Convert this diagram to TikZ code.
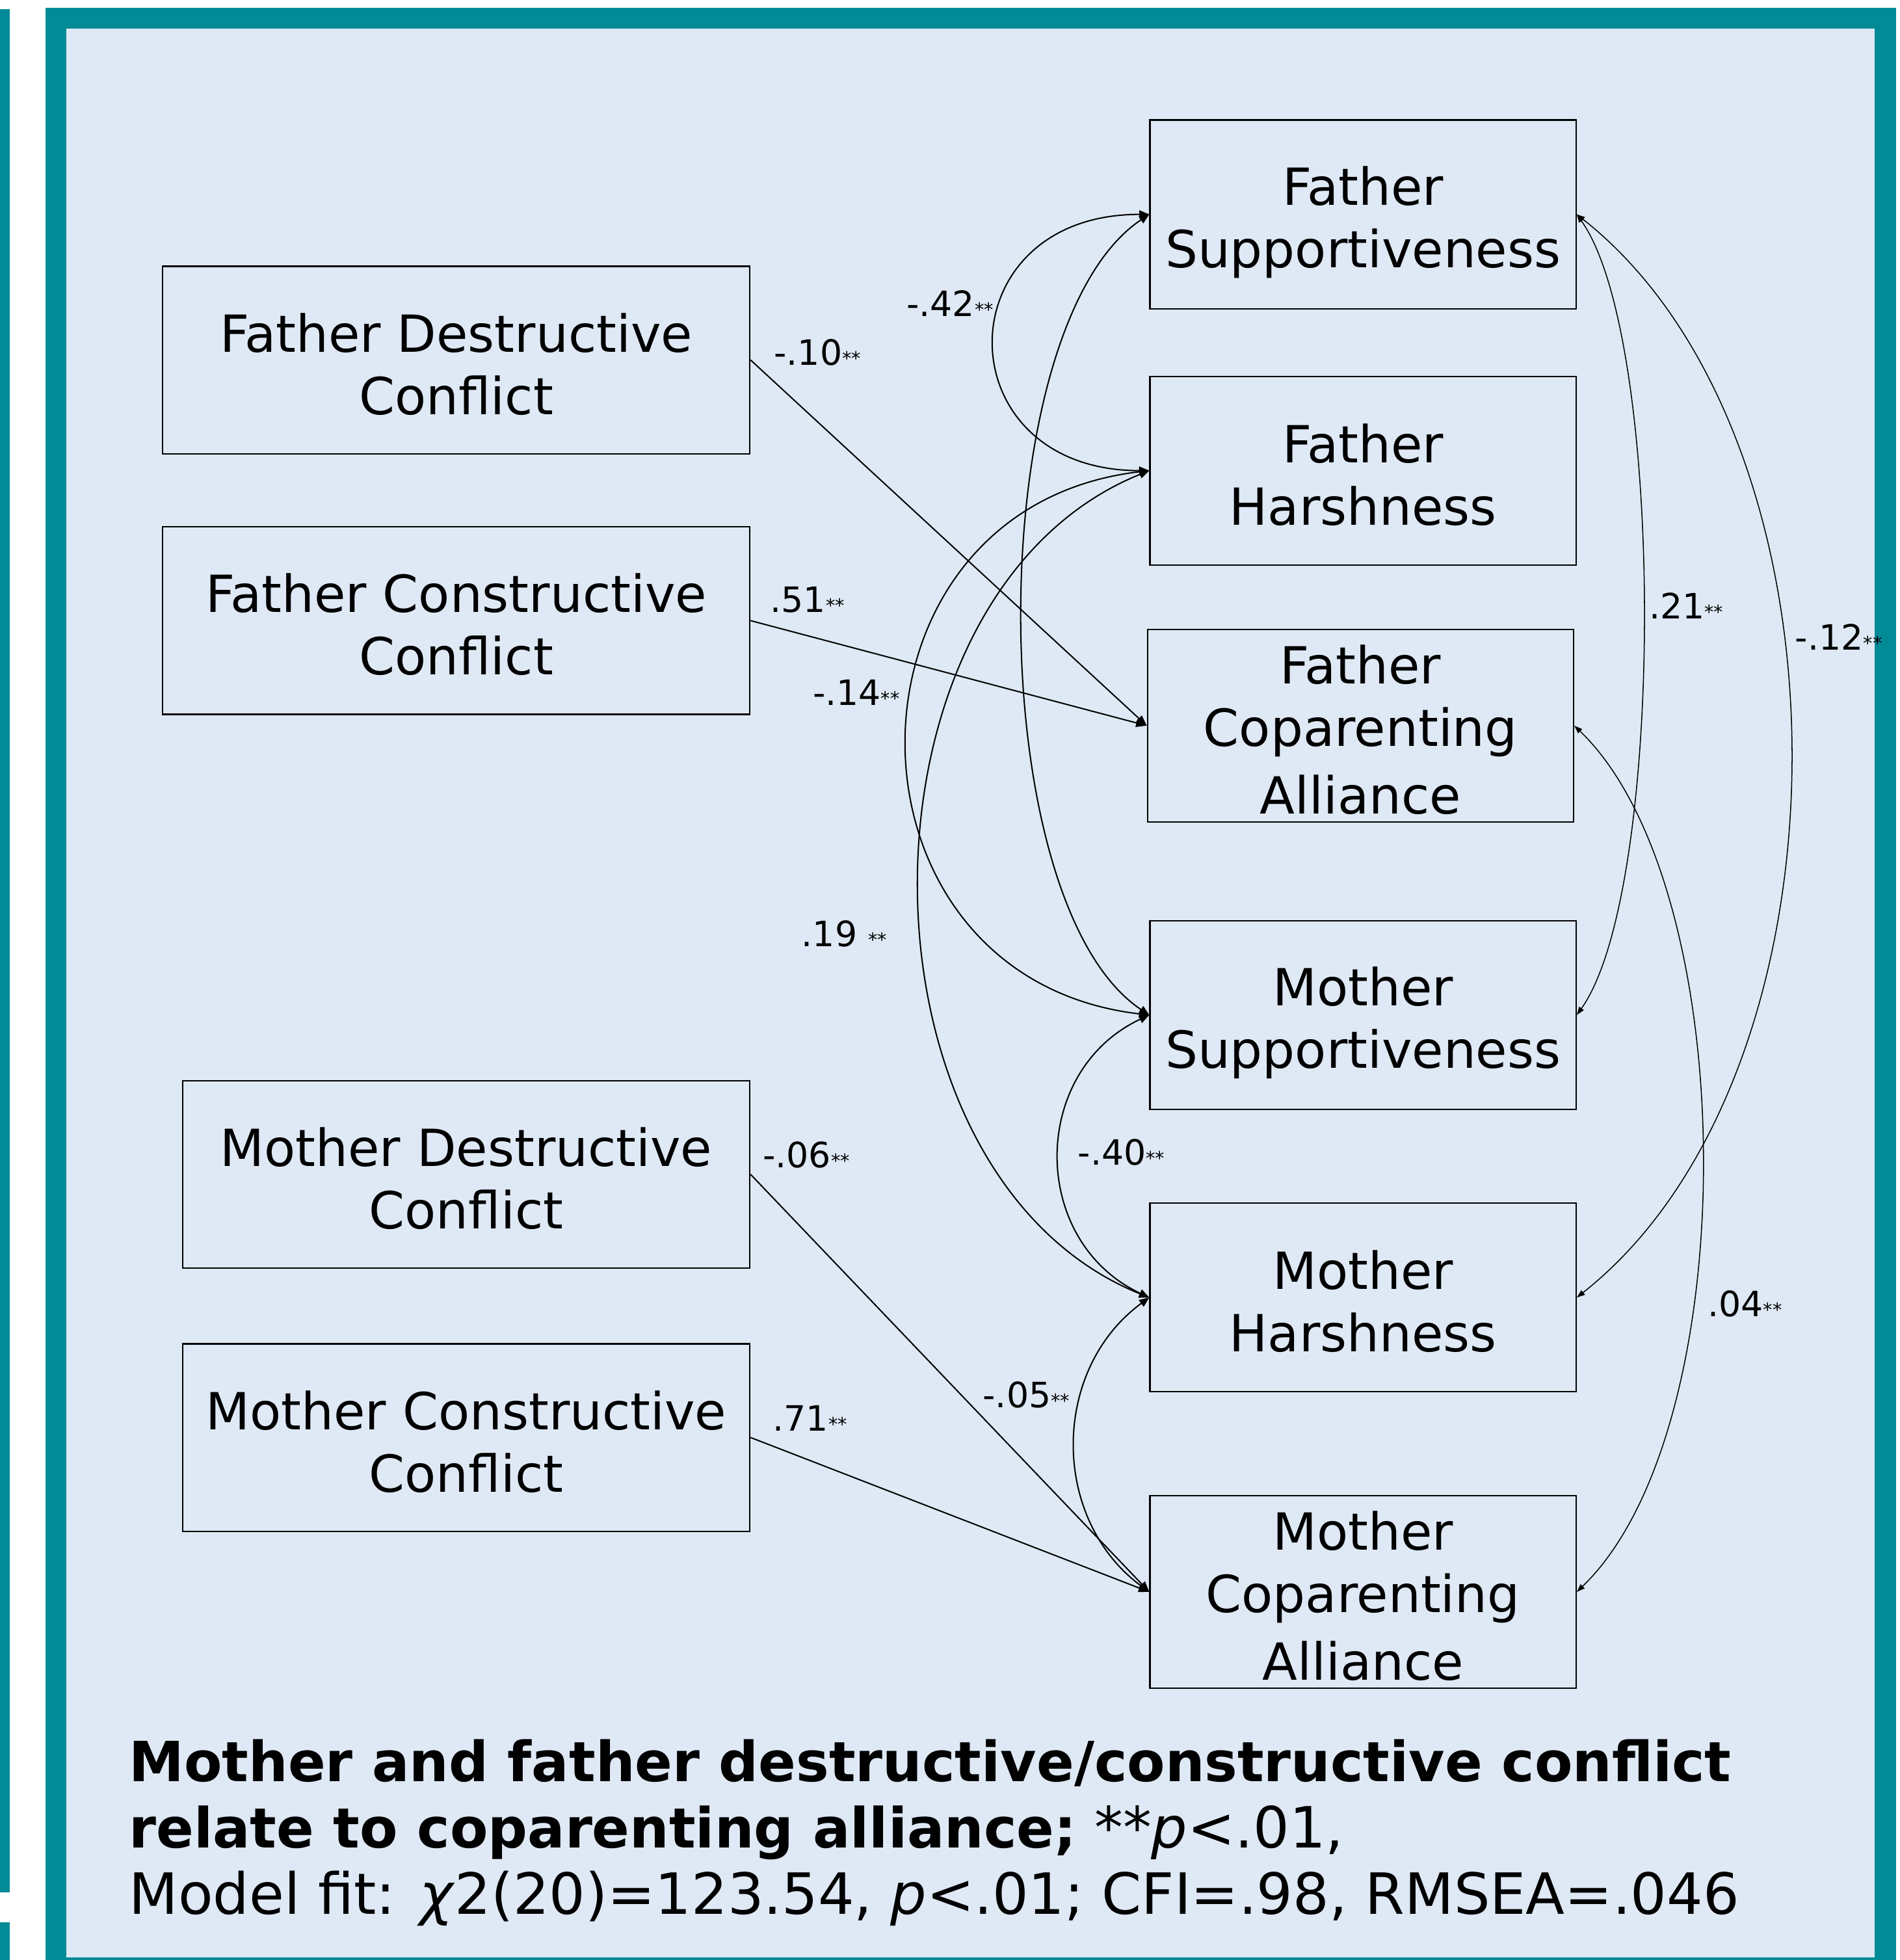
\documentclass[tikz,border=0pt]{standalone}
\usepackage{fontspec}
\setmainfont{DejaVu Sans}[BoldFont={DejaVu Sans Bold},ItalicFont={DejaVu Sans Oblique}]
\usetikzlibrary{arrows.meta}
\definecolor{frameteal}{RGB}{0,139,150}
\definecolor{panelblue}{RGB}{222,233,245}
\newcommand{\sig}{{\fontsize{8.5pt}{8.5pt}\selectfont **}}
\newcommand{\bstrut}{\rule[-0.13cm]{0pt}{1cm}}

\begin{document}
\begin{tikzpicture}[x=0.02cm,y=-0.02cm,
  box/.style={draw=black,line width=0.65pt,inner sep=0pt,align=center,font=\fontsize{23.3pt}{1cm}\selectfont},
  exo/.style={box,minimum height=3cm},
  endo/.style={box,minimum width=6.82cm,minimum height=3.02cm},
  path/.style={line width=0.6pt,-{Triangle[length=0.17cm,width=0.13cm]}},
  cov/.style={line width=0.6pt,{Triangle[length=0.16cm,width=0.13cm]}-{Triangle[length=0.16cm,width=0.13cm]}},
  covr/.style={line width=0.45pt,{Triangle[length=0.13cm,width=0.09cm]}-{Triangle[length=0.13cm,width=0.09cm]}},
  coef/.style={anchor=base west,inner sep=0pt,font=\fontsize{15.9pt}{16pt}\selectfont},
  capline/.style={anchor=base west,inner sep=0pt,font=\fontsize{25.9pt}{30pt}\selectfont}]
\useasboundingbox (0,0) rectangle (1520,1568);
\fill[white] (0,0) rectangle (1520,1568);
\fill[frameteal] (0,7.3) rectangle (7.8,1514);
\fill[frameteal] (0,1538) rectangle (7.8,1568);
\fill[frameteal] (36.4,6.2) rectangle (1517,1568);
\fill[panelblue] (53,22.9) rectangle (1500,1565.8);

\node[exo,minimum width=9.4cm] (fdc) at (365,288) {\bstrut Father Destructive\\\bstrut Conflict};
\node[exo,minimum width=9.4cm] (fcc) at (365,496.5) {\bstrut Father Constructive\\\bstrut Conflict};
\node[exo,minimum width=9.08cm] (mdc) at (373,939.5) {\bstrut Mother Destructive\\\bstrut Conflict};
\node[exo,minimum width=9.08cm] (mcc) at (373,1150) {\bstrut Mother Constructive\\\bstrut Conflict};
\node[endo] (fsup) at (1090.5,171.5) {\bstrut Father\\\bstrut Supportiveness};
\node[endo] (fhar) at (1090.5,376.5) {\bstrut Father\\\bstrut Harshness};
\node[endo] (fcop) at (1088.5,580.5) {\bstrut Father\\\bstrut Coparenting\\\bstrut Alliance};
\node[endo] (msup) at (1090.5,812) {\bstrut Mother\\\bstrut Supportiveness};
\node[endo] (mhar) at (1090.5,1038) {\bstrut Mother\\\bstrut Harshness};
\node[endo] (mcop) at (1090.5,1273.5) {\bstrut Mother\\\bstrut Coparenting\\\bstrut Alliance};

\draw[path] (fdc.east) -- (fcop.west);
\draw[path] (fcc.east) -- (fcop.west);
\draw[path] (mdc.east) -- (mcop.west);
\draw[path] (mcc.east) -- (mcop.west);

\draw[cov] (fsup.west) .. controls +(-165,0) and +(-165,0) .. (fhar.west);
\draw[cov] (fsup.west) .. controls +(-135,90) and +(-135,-90) .. (msup.west);
\draw[cov] (fhar.west) .. controls +(-258,30) and +(-258,-30) .. (msup.west);
\draw[cov] (fhar.west) .. controls +(-245,99) and +(-245,-99) .. (mhar.west);
\draw[cov] (msup.west) .. controls +(-96,45) and +(-96,-45) .. (mhar.west);
\draw[cov] (mhar.west) .. controls +(-79,58) and +(-79,-58) .. (mcop.west);
\draw[covr] (fsup.east) .. controls +(71,100) and +(71,-100) .. (msup.east);
\draw[covr] (fsup.east) .. controls +(228,180) and +(228,-180) .. (mhar.east);
\draw[covr] (fcop.east) .. controls +(135,130) and +(135,-130) .. (mcop.east);

\node[coef] (c10) at (619,292) {-.10\sig};
\node[coef] (c42) at (725,253) {-.42\sig};
\node[coef] (c51) at (616,490) {.51\sig};
\node[coef] (c14) at (650,564) {-.14\sig};
\node[coef] (c19) at (641,757) {.19 \sig};
\node[coef] (c06) at (610,934) {-.06\sig};
\node[coef] (c40) at (862,932) {-.40\sig};
\node[coef] (c71) at (618,1145) {.71\sig};
\node[coef] (c05) at (786,1126) {-.05\sig};
\node[coef] (c21) at (1319,495) {.21\sig};
\node[coef] (c12) at (1436,520) {-.12\sig};
\node[coef] (c04) at (1366,1053) {.04\sig};

\node[capline,font=\fontsize{25.2pt}{30pt}\selectfont\bfseries] (cap1) at (103,1425.3) {Mother and father destructive/constructive conflict};
\node[capline] (cap2) at (103,1478) {{\fontsize{25.2pt}{30pt}\selectfont\bfseries relate to coparenting alliance;} **\textit{p}<.01,};
\node[capline] (cap3) at (103,1531.4) {Model fit: \textit{χ}2(20)=123.54, \textit{p}<.01; CFI=.98, RMSEA=.046};
\end{tikzpicture}
\end{document}
